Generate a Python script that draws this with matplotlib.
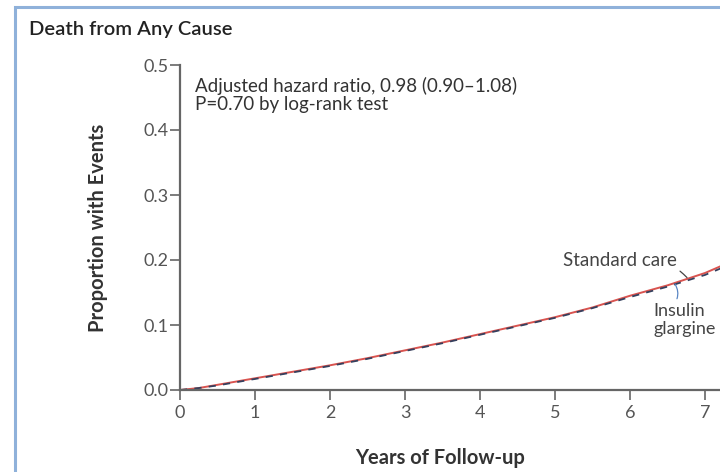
import matplotlib
matplotlib.use("Agg")
import matplotlib.pyplot as plt
from matplotlib.patches import Rectangle

# (cumulative proportion with events)
years = [0, 0.25, 0.5, 0.75, 1, 1.5, 2, 2.5, 3, 3.5, 4, 4.5, 5, 5.5, 6, 6.5, 7, 7.5]
standard_care = [0, 0.003, 0.008, 0.013, 0.018, 0.028, 0.038, 0.049, 0.061, 0.073,
                 0.086, 0.099, 0.112, 0.127, 0.145, 0.161, 0.180, 0.205]
insulin_glargine = [0, 0.003, 0.007, 0.012, 0.017, 0.027, 0.037, 0.048, 0.060, 0.072,
                    0.085, 0.098, 0.111, 0.126, 0.143, 0.159, 0.177, 0.201]
xticks = [0, 1, 2, 3, 4, 5, 6, 7]
yticks = [0.0, 0.1, 0.2, 0.3, 0.4, 0.5]

plt.rcParams["font.family"] = ["Lato", "DejaVu Sans"]

W, H = 720, 472
fig = plt.figure(figsize=(W / 100, H / 100), dpi=100)
fig.patch.set_facecolor("white")

# frame from the journal page (cut on the right and bottom)
fig.patches.append(Rectangle((15 / W, -0.1), 1.2, (H - 7) / H + 0.1,
                             transform=fig.transFigure, fill=False,
                             edgecolor="#8fb1da", linewidth=2.2))

ax = fig.add_axes([180 / W, (H - 390) / H, 600 / W, 325 / H])
ax.set_xlim(0, 8)
ax.set_ylim(0, 0.5)

ax.plot(years, standard_care, color="#d9534f", lw=1.4, solid_capstyle="round")
ax.plot(years, insulin_glargine, color="#34405e", lw=1.3, ls=(0, (4, 4)))

gray = "#666666"
for s in ("top", "right"):
    ax.spines[s].set_visible(False)
for s in ("left", "bottom"):
    ax.spines[s].set_color(gray)
    ax.spines[s].set_linewidth(1.6)

ax.set_xticks(xticks)
ax.set_yticks(yticks)
ax.set_yticklabels([f"{v:.1f}" for v in yticks])
ax.tick_params(axis="both", direction="out", colors=gray, labelsize=13,
               length=7, width=1.2, pad=1.5)
ax.tick_params(axis="x", pad=4)
for lab in ax.get_xticklabels() + ax.get_yticklabels():
    lab.set_color("#555555")

ax.set_ylabel("Proportion with Events", fontsize=14.5, fontweight="bold",
              color="#333333")
ax.yaxis.set_label_coords(-72 / 600, 0.5)
ax.set_xlabel("Years of Follow-up", fontsize=14.5, fontweight="bold",
              color="#333333")
ax.xaxis.set_label_coords(3.47 / 8, -58 / 325)

ax.text(0.2, 0.482, "Adjusted hazard ratio, 0.98 (0.90\u20131.08)\nP=0.70 by log-rank test",
        fontsize=13.5, color="#333333", va="top", ha="left", linespacing=1.1)

ax.annotate("Standard care", xy=(6.76, 0.173), xytext=(6.63, 0.2),
            fontsize=13.5, color="#444444", ha="right", va="center",
            arrowprops=dict(arrowstyle="-", color="#444444", lw=0.9,
                            connectionstyle="arc3,rad=-0.3",
                            shrinkA=0, shrinkB=0))
ax.annotate("Insulin\nglargine", xy=(6.6, 0.163), xytext=(6.31, 0.108),
            fontsize=13, color="#444444", ha="left", va="center",
            linespacing=1.15,
            arrowprops=dict(arrowstyle="-", color="#5a86c4", lw=0.9,
                            connectionstyle="arc3,rad=0.3",
                            relpos=(0.35, 1.0), shrinkA=1, shrinkB=0))

fig.text(29 / W, 1 - 30 / H, "Death from Any Cause", fontsize=14.5,
         fontweight="semibold", color="#222222", va="center", ha="left")

fig.savefig("out.png", dpi=100)
